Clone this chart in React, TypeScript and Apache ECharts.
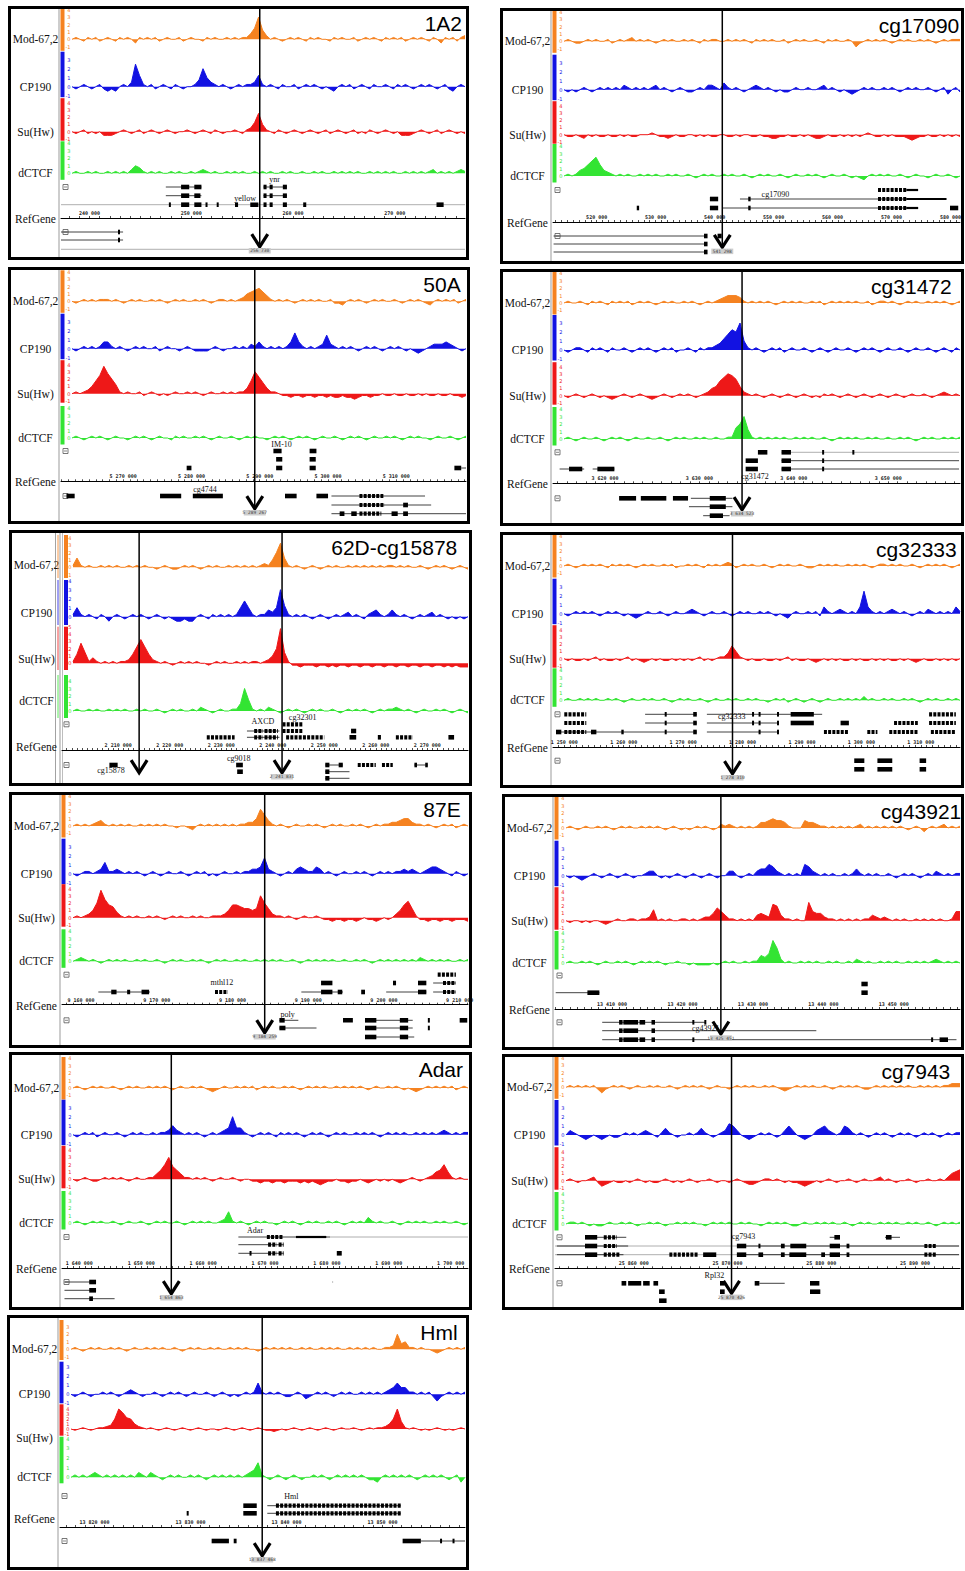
import React, { useEffect, useRef } from "react";
import * as echarts from "echarts";

const TRACKS = ["Mod-67,2", "CP190", "Su(Hw)", "dCTCF"];
const COLORS = ["#F58220", "#1212E2", "#EE1818", "#33E433"];
const ABOVE = [31, 35, 33.5, 32];
const BELOW = [11.5, 10.5, 9, 6.5];
const PPU = [7.4, 9, 7.3, 7.5];

// ---- signal values (quarter units of the track scale) ----
const s1_mod = [0,1,0,-1,1,0,1,-1,0,1, 0,-1,1,0,1,0,-2,1,0,1, 0,1,-1,0,1,0,0,1,-1,0, 1,0,0,-1,1,0,1,0,0,1, 0,1,0,1,1,3,6,12,5,2, 0,1,0,-1,0,1,0,1,0,-1, 1,0,1,0,0,-1,1,0,1,0, 0,1,-1,0,1,0,1,0,-1,1, 0,1,0,1,-1,0,1,0,1,0, -1,1,0,-2,1,0,1,-1,1,2];
const s1_cp = [0,-1,0,1,0,-1,0,1,-1,-2, -1,-2,0,1,0,2,10,5,1,0, 1,-1,0,1,0,-1,1,0,-1,0, 0,1,3,8,4,2,1,0,1,0, -1,0,1,0,1,1,2,5,1,0, 1,0,-1,1,0,0,1,-1,0,1, 0,1,0,-1,0,-1,-2,0,1,0, 1,-1,0,1,0,-1,1,0,0,1, 0,-1,1,0,1,0,-1,0,1,0, 1,0,-1,0,1,-1,-2,0,1,0];
const s1_su = [0,-1,0,1,-1,0,-1,0,-2,-2, -2,-1,0,1,0,-1,0,1,-1,0, 1,0,-1,0,1,0,-1,0,0,1, 0,-1,0,1,0,-1,1,0,-1,0, 0,1,0,-1,1,2,5,10,4,1, 0,-1,1,0,-1,0,1,0,-1,0, 1,0,-1,0,1,-1,0,1,0,-1, 0,1,-1,0,-1,1,0,-1,0,1, 0,-1,0,-2,-2,-2,-1,0,1,0, -1,0,1,-1,0,1,0,-1,0,-1];
const s1_ct = [0,1,0,0,1,0,1,0,0,1, 0,1,0,1,0,2,4,3,1,0, 1,0,1,0,0,1,0,1,0,0, 1,0,1,2,1,0,1,0,0,1, 0,1,0,1,0,0,1,0,1,0, 1,0,0,1,0,1,0,0,1,0, 0,1,0,1,0,0,1,0,1,0, 1,0,1,0,0,1,0,1,0,1, 0,1,0,0,1,0,1,0,1,0, 1,2,0,1,0,1,0,1,2,1];

const s2_mod = [0,1,0,-1,-1,0,1,0,1,0, 0,1,-1,0,1,0,1,2,0,1, 0,1,0,-1,0,1,0,1,0,0, 1,0,1,0,-1,1,0,1,1,0, 0,1,0,1,0,1,0,-1,1,0, 1,0,1,0,0,1,-1,0,1,0, 1,0,0,1,0,-1,1,0,1,0, 0,1,0,-3,-1,0,1,0,1,0, 1,0,-1,0,1,0,1,0,0,1, 0,1,0,-1,0,1,0,1,1,1];
const s2_cp = [0,-1,0,-1,0,1,0,-1,0,1, 0,1,0,1,0,2,1,0,1,0, 1,0,1,2,0,1,0,-1,0,1, 0,-1,-1,0,1,0,2,2,1,0, 3,1,0,1,0,-1,0,1,2,1, 0,1,0,-1,0,-1,-1,0,1,0, 0,1,0,0,1,2,0,1,0,-1, 0,-1,-2,-1,0,1,0,1,0,0, 1,0,1,0,-1,0,1,0,1,0, 0,1,0,-1,0,1,-2,0,1,-1];
const s2_su = [0,-1,-1,0,-1,-2,0,-1,0,-1, -1,0,-1,-1,0,-1,0,-1,-1,0, 0,0,1,0,-1,-1,-2,-1,0,-1, -1,0,0,-1,0,-1,0,-1,-1,0, 0,-1,-1,0,-1,0,0,-1,-1,0, -1,-1,-2,-2,-1,-1,0,-1,-1,0, -1,0,-1,-2,-2,-1,0,-1,-1,0, -1,0,-1,0,-1,0,1,0,-1,-1, 0,-1,0,-1,-1,-1,-2,-3,-2,-1, -1,0,-1,-1,0,-1,0,-1,0,-1];
const s2_ct = [0,1,0,1,3,4,6,8,10,6, 3,2,1,0,1,0,1,0,0,1, 0,1,0,1,0,0,1,0,1,0, 0,1,0,-1,0,1,0,1,0,0, 1,0,1,0,0,1,0,-1,0,1, 0,1,0,0,1,0,-1,0,1,0, 0,1,0,1,0,-1,0,1,0,0, 1,0,-1,0,-1,-2,0,1,0,1, 0,1,0,0,1,0,-1,0,1,0, 0,-1,0,1,0,0,1,0,-1,0];

const s3_mod = [0,-1,0,1,0,1,0,1,1,1, 0,1,0,-1,0,1,0,1,0,0, 1,0,1,0,-1,0,1,0,1,0, 0,1,0,1,0,-1,0,1,1,0, 1,0,1,2,4,5,6,7,5,3, 1,0,1,0,1,0,-1,0,1,0, 1,0,1,0,0,1,-1,-1,-2,0, 1,0,1,0,-1,0,1,0,1,0, 0,1,0,-1,0,1,0,1,0,-1, -2,0,1,0,1,0,1,-1,0,1];
const s3_cp = [0,-1,0,1,0,1,0,1,3,3, 1,0,1,0,-1,0,1,0,1,0, 0,1,-1,0,1,0,0,-1,0,1, 0,-1,-1,-1,-1,0,1,0,-1,0, 0,1,0,1,0,2,1,3,1,0, 1,0,1,0,1,3,7,3,1,0, 1,0,1,2,6,2,1,0,1,0, 1,0,-1,0,1,0,1,0,-1,0, 1,0,1,0,-1,0,-1,-2,-1,0, 1,2,2,2,3,2,1,0,-1,0];
const s3_su = [0,1,0,1,2,4,7,10,15,11, 8,5,1,0,1,0,0,1,-1,0, 1,0,-1,0,-1,0,1,0,0,1, 0,1,0,-1,0,1,0,0,1,0, 1,0,1,1,3,7,12,9,6,3, 1,1,0,-1,-1,-2,-1,-1,-2,-1, -1,-2,-1,-1,-2,-1,-2,-2,-1,-2, -2,-3,-2,-1,-1,-2,-1,-1,0,-1, -1,0,-1,-1,0,-1,-1,0,-1,0, -1,-1,0,-1,-1,0,-1,-1,-2,-1];
const s3_ct = [0,1,0,-1,0,1,0,1,0,-1, 0,1,0,0,-1,0,1,0,1,0, -1,0,1,0,0,-1,1,0,1,0, 0,1,0,1,0,-1,0,1,0,0, 1,0,-1,0,1,0,1,0,0,-1, 0,1,0,1,0,-1,0,1,0,1, 0,-1,0,1,0,0,1,0,-1,0, 1,0,1,0,-1,0,1,0,0,1, 0,1,0,-1,0,1,0,1,0,0, -1,0,1,0,0,1,0,-1,0,1];

const s4_mod = [0,1,0,0,1,0,-1,1,0,1, 0,-1,1,0,1,0,1,-1,0,1, 0,1,0,-1,0,1,0,1,0,0, 1,0,1,0,-1,0,1,0,1,2, 3,4,4,4,3,1,0,1,0,1, 0,1,0,-1,0,1,0,1,0,1, 0,0,1,0,1,-1,0,1,0,1, 0,1,0,1,0,0,1,-1,0,1, 1,0,1,0,-1,0,1,0,1,0, 0,1,0,1,0,1,0,-1,0,1];
const s4_cp = [0,-1,0,1,1,0,-1,1,0,1, 0,-1,1,0,0,1,0,-1,0,1, 0,1,0,-1,0,1,0,1,-1,0, 0,1,0,-1,1,0,1,1,2,3, 5,7,9,8,12,4,1,0,1,0, -1,0,1,0,1,-1,0,1,0,0, 1,0,-1,0,1,0,-1,0,1,0, 0,1,0,-1,0,1,0,1,0,-1, 0,1,0,0,1,0,-1,0,1,0, 0,1,0,-1,0,1,0,-1,1,0];
const s4_su = [0,-1,0,1,0,-1,0,1,0,-1, 0,-1,-2,-1,0,1,0,-1,0,1, 0,-1,-2,-1,0,1,0,-1,0,1, 0,1,0,-1,0,1,2,4,5,8, 10,12,11,9,5,2,1,0,1,0, -1,0,1,0,-1,0,1,0,-1,0, 1,0,-1,0,-1,1,0,1,0,-1, 0,1,0,-1,0,1,0,-1,0,1, 0,-1,0,1,0,-1,0,1,0,0, 1,0,-1,0,1,2,1,0,1,0];
const s4_ct = [0,1,0,-1,0,1,0,0,1,0, -1,0,1,0,1,0,-1,0,1,0, 0,1,0,0,1,0,-1,0,1,0, 1,0,0,1,0,1,0,0,1,0, 0,1,1,6,8,12,5,1,0,1, 0,1,0,1,0,1,0,0,1,0, 1,0,1,0,0,1,0,-1,0,1, 0,1,0,1,0,0,1,0,1,0, 0,1,0,0,1,0,1,0,-1,0, 1,0,1,0,0,1,0,1,0,1];

const s5_mod = [1,5,1,0,1,0,0,1,0,1, 0,1,0,0,1,0,1,0,1,0, 0,-1,0,1,0,-1,-1,0,1,0, 1,0,-1,0,1,0,1,0,0,1, 0,1,0,1,0,1,0,1,2,1, 4,8,13,5,1,0,1,0,-1,0, 1,0,-1,0,1,0,1,0,0,1, 0,1,0,1,0,1,0,1,0,1, 1,0,1,0,1,0,0,1,0,-1, 0,1,0,1,0,-1,0,1,0,-1];
const s5_cp = [1,4,1,0,1,0,-1,1,0,-2, 0,1,0,-1,0,1,0,1,0,-1, 0,1,0,-1,0,-1,-2,-2,-1,-2, -2,0,1,0,-1,1,0,1,0,1, 0,1,4,7,4,1,0,1,1,3, 2,4,12,5,1,0,1,0,1,0, -1,0,1,0,-1,0,1,0,1,2, 0,1,0,-1,1,2,3,1,0,1, 3,1,0,1,0,-1,0,1,0,1, 2,0,1,0,-1,0,-1,0,-1,0];
const s5_su = [1,5,11,6,1,3,1,0,1,0, 1,0,1,1,2,5,9,13,9,5, 2,1,0,1,0,-1,0,1,0,1, 0,1,0,0,-1,0,1,0,1,0, 0,1,0,1,0,1,1,0,1,2, 4,8,19,6,1,-1,-1,-2,-1,-1, -1,-2,-1,-1,-2,-1,-2,-1,-1,-2, -1,-1,-2,-1,-1,-2,-1,-1,-2,-1, -1,-2,-1,-1,-2,-1,-1,-2,-1,-1, -2,-1,-1,-2,-1,-2,-1,-2,-2,-2];
const s5_ct = [0,1,0,0,1,0,1,0,0,1, 0,1,0,1,0,0,1,0,1,0, 0,1,0,-1,0,1,0,1,0,0, 1,0,2,1,0,-1,0,1,0,0, 1,1,4,12,6,1,0,1,0,2, 1,0,-1,0,1,0,1,0,-1,0, 1,0,1,0,0,1,0,-1,0,1, 0,1,0,1,0,-1,0,1,0,1, 1,2,1,0,1,0,-1,0,1,0, 0,1,0,1,0,-1,0,1,0,-1];

const s6_mod = [0,1,0,-1,0,1,0,1,0,1, 0,-1,1,0,1,0,1,0,-1,0, 1,0,1,0,0,1,0,1,-1,0, 0,1,0,1,0,-1,1,0,1,0, 1,2,1,-1,0,1,0,1,0,0, 1,0,-1,0,1,0,1,0,0,1, 0,-1,-1,0,1,0,1,0,1,0, 0,1,0,1,0,1,0,-1,0,1, 1,0,1,0,1,0,0,1,0,-1, 0,1,0,1,0,1,0,-1,0,1];
const s6_cp = [0,-1,0,1,0,1,0,1,0,-1, 0,1,0,1,0,-1,0,-1,-2,-1, 0,1,0,0,1,0,-1,0,1,0, 0,1,2,1,0,-1,0,1,0,0, 1,0,-1,0,1,0,1,0,0,1, 0,1,0,-1,0,-1,-2,0,1,0, 0,1,0,1,-1,3,1,0,1,2, 1,0,1,0,3,10,3,1,0,1, 0,1,2,1,0,1,0,-1,0,1, 0,2,1,0,1,0,1,0,3,1];
const s6_su = [0,-1,0,-1,-1,0,-1,0,1,-1, 0,-1,-1,0,-1,0,1,-1,0,-1, -2,-1,0,-1,0,-1,-1,0,-1,0, -1,0,-1,0,1,-1,0,-1,0,1, 1,3,7,4,1,0,-1,0,-1,-1, 0,-1,-1,0,-1,0,1,-1,0,-1, -1,0,-1,-2,-1,0,-1,0,-1,0, -1,-1,0,-1,0,-1,-1,0,-1,0, -1,0,-1,-1,0,-1,0,-1,-2,-1, 0,-1,-1,0,-1,0,-1,0,-1,0];
const s6_ct = [0,1,0,0,1,0,1,0,1,0, 0,1,0,1,0,-1,0,1,0,0, 1,0,1,0,0,1,0,-1,0,1, 0,1,0,0,1,0,-1,0,1,0, 0,1,0,1,0,0,1,0,1,0, 0,-1,0,1,0,1,-1,0,1,0, -1,0,1,0,-1,0,1,0,0,1, 0,1,0,1,0,2,0,1,0,0, 1,0,1,0,0,1,0,1,0,-1, 0,1,0,1,0,0,1,0,1,0];

const s7_mod = [0,1,0,1,0,1,2,3,1,0, 1,0,1,0,1,0,0,1,0,1, 0,1,0,1,0,0,-1,0,0,-1, -2,0,1,0,1,0,1,0,1,0, 1,0,1,1,2,2,4,9,6,3, 1,0,1,0,-1,0,1,0,0,1, 0,1,0,-1,0,1,0,1,0,0, 1,0,1,0,-1,0,1,0,1,1, 2,2,3,4,4,2,1,1,0,1, 0,-1,0,1,0,1,-1,0,1,0];
const s7_cp = [0,-1,0,1,1,0,1,2,5,1, 1,2,1,0,1,0,1,0,-1,0, 1,0,-1,0,1,0,0,1,0,-1, 0,1,0,1,-1,0,-1,0,1,0, 0,1,0,1,1,2,2,3,7,2, 1,0,-1,0,1,0,2,3,2,1, 1,3,2,0,1,0,-1,0,1,0, 0,1,0,1,0,-1,0,1,0,1, 0,1,1,2,1,2,1,0,1,2, 3,3,2,1,0,-1,1,0,-1,0];
const s7_su = [0,1,0,1,2,4,8,15,10,7, 6,3,1,0,1,0,1,0,0,1, 0,1,0,-1,0,1,0,1,0,0, 1,0,1,0,0,1,1,1,2,4, 7,7,6,5,5,4,5,12,8,5, 2,1,1,0,1,0,-1,0,1,0, 0,1,0,-1,-1,-2,-1,-1,-2,-1, -1,-2,-1,0,-1,-1,-2,-1,0,-1, 0,2,4,7,9,5,1,-1,-1,-2, -1,-1,-2,-1,-1,-2,-1,-1,-1,-2];
const s7_ct = [0,1,2,1,0,1,0,-1,0,1, 0,1,0,1,0,0,1,0,1,0, 0,1,0,-1,0,1,0,1,0,0, 1,0,1,0,-1,0,1,0,1,0, 0,1,0,1,0,0,1,0,1,0, 1,0,1,0,0,1,0,-1,0,1, 0,1,0,1,0,1,0,0,1,0, 0,1,0,1,0,-1,0,1,0,1, 0,1,0,1,0,1,0,2,1,0, 1,0,1,0,1,0,0,1,0,1];

const s8_mod = [0,1,0,-1,0,1,0,0,1,0, 1,0,-1,0,1,0,1,0,0,1, 0,1,0,1,0,-1,0,1,0,-1, 0,-1,0,1,0,1,0,-1,0,2, 1,2,1,0,1,0,1,0,1,3, 3,4,5,4,4,3,1,0,0,0, 4,3,3,2,1,1,0,1,0,1, 0,1,0,1,2,0,1,0,1,0, 1,0,1,0,1,0,-1,0,1,0, -2,0,1,0,1,2,0,1,0,1];
const s8_cp = [0,-1,0,-1,-2,-1,0,1,0,-1, 0,1,0,-1,0,1,0,-1,0,0, 1,2,2,0,-1,0,-1,0,1,0, -1,0,1,0,-1,0,1,0,-1,0, 0,2,2,0,-1,0,1,0,2,3, 3,5,4,2,1,0,1,0,1,0, 5,4,2,1,0,1,0,1,0,0, 1,0,1,3,1,0,1,0,1,0, 0,1,0,-1,0,1,0,1,0,-1, 0,1,0,2,1,0,1,0,1,1];
const s8_su = [0,-1,0,0,-1,0,-1,0,0,-1, -2,-1,0,1,0,0,1,1,0,1, 1,2,6,0,1,0,1,0,0,1, 1,0,1,0,1,2,2,4,7,5, 3,1,1,0,1,0,1,0,3,4, 3,2,9,8,3,1,1,0,1,0, 0,10,5,4,4,2,1,1,0,1, 0,1,0,1,0,1,1,3,2,1, 2,1,0,1,0,1,0,0,1,0, 1,0,1,0,1,0,0,1,5,5];
const s8_ct = [0,1,0,0,1,0,1,0,-1,0, 1,0,0,1,0,1,0,-1,0,1, 0,1,0,1,0,-1,0,0,1,0, 0,-1,0,-1,-1,-1,-1,0,-1,0, 1,0,1,0,0,1,0,1,1,4, 3,5,12,8,2,0,1,0,0,1, 0,1,0,1,0,0,1,0,1,0, 0,1,0,2,1,0,1,0,0,1, 0,1,0,1,0,0,1,0,1,0, 1,0,1,2,1,0,1,0,1,0];

const s9_mod = [0,1,0,-1,0,1,0,1,0,0, 1,0,-1,0,1,0,1,0,0,1, 0,1,0,1,0,-1,0,1,0,0, 1,0,1,0,-1,-2,-1,0,1,0, 0,1,0,1,0,1,-1,0,1,0, 1,0,0,1,0,1,0,-1,0,1, 0,1,0,1,0,0,1,0,1,0, 1,0,1,0,-1,0,1,0,0,1, 0,1,0,-1,0,-1,-2,-1,0,1, 0,1,0,1,0,1,-1,0,1,0];
const s9_cp = [0,-1,0,1,0,1,-1,0,1,0, 0,1,0,-1,0,1,0,1,0,0, 1,0,1,1,2,4,2,1,0,1, 0,1,0,-1,0,1,0,1,2,3, 8,3,3,1,0,-1,0,1,0,1, 0,-1,1,0,1,0,1,0,-1,0, 1,0,1,0,-1,0,1,0,1,0, 0,1,0,1,0,1,0,-1,0,1, 0,1,0,1,0,0,1,0,1,0, 1,0,1,2,1,0,1,0,1,1];
const s9_su = [0,-1,0,1,0,-1,-1,0,1,0, 1,0,1,0,-1,0,1,0,0,1, 1,3,5,8,12,7,5,3,1,1, 0,1,0,1,0,-1,0,1,0,0, 1,0,-1,0,0,-1,-1,-2,-1,-1, -2,-1,-1,-2,-1,-1,-1,-2,-1,-2, -1,-2,-3,-2,-1,-1,0,-1,-1,-2, -1,-1,0,-1,-2,-1,0,-1,0,-1, 0,-1,-2,-1,0,1,0,-1,0,1, 2,4,5,8,4,1,0,1,0,0];
const s9_ct = [0,1,0,-1,0,1,0,1,0,0, 1,0,-1,0,1,0,0,1,0,-1, 0,1,0,1,0,0,1,0,-1,0, 1,0,1,0,1,0,0,1,2,6, 1,0,1,0,-1,0,1,0,1,0, 0,-1,0,1,0,1,0,-1,0,1, 0,1,0,0,1,0,1,0,-1,0, 1,0,1,0,3,1,0,1,0,0, 1,0,-1,0,1,0,1,0,1,0, 0,1,0,1,0,0,1,0,-1,0];

const s10_mod = [0,1,0,1,0,1,0,1,-1,-3, -1,0,1,0,1,0,-1,0,1,0, 0,1,0,1,0,0,1,0,-1,0, 1,0,1,0,1,0,-1,0,1,0, 0,-1,0,1,0,1,0,1,0,0, 1,0,1,0,-1,-2,-1,0,1,0, 1,0,1,0,0,1,0,-1,0,1, 0,1,0,1,0,-1,-1,0,1,0, 1,0,1,0,1,0,1,0,0,1, 0,1,0,1,0,1,1,2,2,2];
const s10_cp = [0,2,1,0,-1,-2,-1,0,-1,-2, -1,0,-1,-1,0,1,0,1,0,1, 2,1,0,-1,1,3,1,0,-1,0, 0,1,0,1,3,1,0,-1,0,1, 2,5,4,2,0,-1,-2,-1,0,1, 0,1,0,-1,0,2,4,2,0,-1, -2,-1,0,2,3,4,2,1,0,1, 4,3,1,0,1,0,-1,0,1,0, 1,0,-1,0,1,0,1,0,-1,0, 1,0,1,0,-1,0,1,0,1,1];
const s10_su = [0,1,0,-1,0,0,1,2,-1,-3, -2,-1,0,-1,-1,0,-1,0,1,0, -1,0,-1,-1,0,1,0,-1,0,-1, 0,1,0,-1,0,0,1,0,-1,0, 0,-1,0,1,0,-1,-2,-2,-1,0, 1,1,0,1,0,-1,0,-1,-1,-2, -3,-2,-1,0,-1,0,1,0,-1,0, 0,1,0,-1,0,1,0,0,1,2, 0,1,0,-1,0,0,1,0,-1,0, 0,1,0,0,1,0,2,4,5,6];
const s10_ct = [0,1,1,0,1,0,-1,0,-1,-1, 0,1,0,0,1,0,1,0,-1,0, 0,1,0,1,0,-1,0,0,1,0, 1,0,1,0,0,-1,0,1,0,1, 0,1,0,0,1,0,1,0,0,-1, 0,1,0,1,0,1,0,-1,-1,0, 1,0,0,1,0,1,0,1,0,0, 1,0,-1,0,1,0,1,0,0,1, 0,1,0,1,0,0,1,0,1,0, 0,1,0,-1,0,1,0,1,0,1];

const s11_mod = [0,1,0,-1,0,1,0,1,0,0, 1,0,1,0,-1,0,1,0,0,1, 0,1,0,1,0,0,1,0,-1,0, 1,0,1,0,0,1,0,1,0,0, 1,0,1,0,1,0,0,-1,0,1, 0,1,0,1,0,1,0,0,1,0, 1,0,0,1,0,1,0,1,0,0, 1,0,1,0,1,0,1,0,0,1, 1,2,8,3,4,1,1,0,1,0, 0,-1,-2,-1,0,1,0,1,0,1];
const s11_cp = [0,-1,0,1,0,-1,0,0,1,0, 1,0,-1,0,1,2,1,0,-1,0, 0,1,0,-1,0,1,0,1,0,-1, 0,1,0,0,1,0,-1,0,1,0, -1,0,-1,0,1,0,1,5,1,0, 1,0,1,0,-1,-1,0,1,0,-2, -1,0,1,0,1,0,-1,0,1,0, 1,0,0,1,0,1,0,1,0,1, 2,3,5,3,3,1,1,0,1,0, 1,-1,-3,-1,0,1,0,1,0,1];
const s11_su = [0,-1,0,1,0,-1,0,1,1,2, 3,8,16,13,9,8,4,2,1,0, 1,0,-1,0,1,0,-1,0,1,0, -1,0,1,0,-1,0,0,-1,0,1, 0,-1,0,1,0,-1,0,1,0,-1, -1,-2,-1,0,-1,0,1,0,-1,0, 1,0,-1,0,1,0,-1,0,1,0, 0,1,0,-1,0,1,0,1,1,2, 4,8,16,6,1,0,1,0,-1,0, -1,0,1,0,-1,0,-1,0,1,0];
const s11_ct = [0,1,0,1,0,1,2,1,0,1, 0,1,0,1,0,1,0,2,1,0, 2,1,0,-1,0,1,0,1,0,0, 1,0,1,0,-1,0,1,0,1,0, 1,0,1,0,1,2,3,6,1,0, -1,0,1,0,-1,0,1,0,-1,0, 0,1,0,1,0,-1,0,1,0,1, 0,1,0,1,0,-1,-1,-2,0,1, 0,1,0,1,0,1,0,-1,0,1, 0,1,0,1,0,-1,0,1,-2,0];

// ---- gene models: [start kb, end kb, row, type(0 line,1 exon,2 grey line,3 exon chain,4 thick line)] ----
const g1 = [[247.5,251.0,0,0],[249.0,249.8,0,1],[250.3,251.0,0,1],[257.1,259.4,0,0],[257.1,257.4,0,1],[257.7,258.0,0,1],[259.0,259.4,0,1],
[247.5,251.0,1,0],[249.0,249.8,1,1],[250.3,250.9,1,1],[257.1,259.4,1,0],[257.1,257.4,1,1],[257.7,258.0,1,1],[259.0,259.4,1,1],
[237.2,276.9,2,2],[247.8,247.9,2,1],[249.0,249.8,2,1],[250.3,251.0,2,1],[251.4,251.6,2,1],[252.5,252.6,2,1],[254.3,254.6,2,1],[255.8,256.6,2,1],[257.1,257.4,2,1],[257.7,258.0,2,1],[259.0,259.4,2,1],[261.0,261.3,2,1],[274.1,274.8,2,1],
[237.2,243.3,3,0],[242.8,242.9,3,1],[237.2,243.3,4,0],[242.8,242.9,4,1],[237.2,276.9,5,2]];
const g2 = [[567.7,572.5,0,3],[572.5,574.5,0,4],
[539.2,540.6,1,1],[544.3,579.3,1,0],[545.7,546.1,1,1],[567.7,572.5,1,3],[572.5,579.3,1,4],
[526.8,527.2,2,1],[539.2,540.6,2,1],[541.4,574.5,2,0],[545.7,546.1,2,1],[567.7,572.5,2,3],[572.5,574.5,2,4],[579.9,581.3,2,1],
[512.7,538.6,3,0],[538.2,538.8,3,1],[540.5,541.2,3,1],
[512.7,538.6,4,0],[538.2,538.8,4,1],
[512.7,538.6,5,0],[538.2,538.8,5,1]];
const g3 = [[5292.0,5293.2,0,1],[5297.3,5298.3,0,1],
[5292.4,5293.3,1,1],[5297.3,5298.2,1,1],
[5279.3,5280.0,2,1],[5292.4,5293.3,2,1],[5297.3,5298.2,2,1],[5318.5,5319.5,2,1],[5319.5,5320.2,2,0],
[5261.7,5262.9,3,1],[5275.4,5278.5,3,1],[5280.2,5284.6,3,1],[5293.7,5295.4,3,1],[5298.3,5300.0,3,1],[5300.5,5314.2,3,0],[5304.6,5308.1,3,3],
[5300.5,5315.1,4,0],[5304.6,5308.3,4,3],[5311.0,5311.7,4,1],
[5300.5,5320.2,5,0],[5301.7,5302.4,5,1],[5303.4,5304.2,5,1],[5304.6,5307.8,5,3],[5309.3,5310.2,5,1],[5311.0,5311.7,5,1]];
const g4 = [[3636.2,3637.2,0,1],[3638.7,3657.5,0,2],[3638.7,3639.7,0,1],[3643.0,3643.1,0,1],[3646.2,3646.3,0,1],
[3634.9,3636.2,1,1],[3638.7,3657.5,1,0],[3638.7,3639.7,1,1],[3643.0,3643.1,1,1],
[3615.2,3617.8,2,0],[3616.2,3617.6,2,1],[3618.7,3621.0,2,0],[3619.2,3621.0,2,1],[3634.9,3636.2,2,1],[3638.7,3657.5,2,0],[3638.7,3639.7,2,1],[3643.0,3643.1,2,1],
[3621.5,3623.3,3,1],[3623.8,3626.5,3,1],[3627.2,3628.8,3,1],[3629.1,3633.5,3,0],[3631.1,3632.8,3,1],
[3628.9,3633.5,4,0],[3631.1,3632.8,4,1],
[3630.4,3633.2,5,0],[3631.1,3632.5,5,1]];
const g5 = [[2241.9,2245.8,0,3],
[2235.0,2241.3,1,0],[2236.4,2238.1,1,3],[2238.4,2241.0,1,3],[2241.9,2245.8,1,3],[2255.2,2256.2,1,1],
[2227.2,2232.6,2,3],[2235.0,2241.3,2,0],[2236.4,2238.1,2,3],[2238.4,2241.0,2,3],[2242.6,2250.0,2,3],[2254.9,2256.2,2,1],[2260.4,2261.0,2,1],[2263.9,2267.2,2,3],[2274.1,2275.2,2,1],
[2208.3,2209.9,3,1],[2232.9,2234.2,3,1],[2250.2,2253.6,3,0],[2250.2,2251.0,3,1],[2252.8,2253.6,3,1],[2256.5,2260.0,3,3],[2261.2,2263.3,3,3],[2267.5,2270.1,3,0],[2267.5,2268.0,3,1],[2269.6,2270.1,3,1],
[2233.1,2234.2,4,1],[2250.2,2254.9,4,0],[2250.2,2251.0,4,1],
[2250.2,2254.9,5,0],[2250.2,2251.0,5,1]];
const g6 = [[1250.0,1253.7,0,3],[1263.6,1272.3,0,0],[1266.9,1267.0,0,1],[1271.7,1272.3,0,1],[1274.0,1293.4,0,0],[1281.6,1281.7,0,1],[1282.7,1282.8,0,1],[1285.8,1285.9,0,1],[1288.1,1292.0,0,1],[1311.4,1315.9,0,3],
[1250.0,1253.7,1,3],[1263.6,1272.3,1,0],[1266.9,1267.0,1,1],[1271.7,1272.3,1,1],[1274.0,1285.8,1,0],[1281.6,1281.7,1,1],[1282.7,1282.8,1,1],[1285.8,1285.9,1,1],[1288.1,1292.0,1,1],[1296.5,1297.9,1,1],[1305.5,1309.5,1,3],[1311.4,1315.9,1,3],
[1248.6,1272.3,2,0],[1248.6,1249.5,2,1],[1250.0,1253.7,2,3],[1254.5,1255.4,2,1],[1259.6,1260.0,2,1],[1266.9,1267.0,2,1],[1271.7,1272.3,2,1],[1274.0,1285.8,2,0],[1282.7,1282.9,2,1],[1285.8,1285.9,2,1],[1293.7,1297.9,2,3],[1301.0,1302.7,2,3],[1304.7,1309.5,2,3],[1311.7,1315.9,2,3],
[1298.8,1300.5,3,1],[1302.7,1305.2,3,1],[1309.8,1310.9,3,1],
[1298.8,1300.5,4,1],[1302.7,1305.2,4,1],[1309.8,1310.9,4,1]];
const g7 = [[9207.1,9209.5,0,3],
[9191.7,9193.2,1,1],[9201.2,9201.6,1,1],[9204.5,9205.6,1,1],[9206.5,9209.5,1,0],[9207.8,9209.5,1,3],
[9162.3,9169.1,2,0],[9164.0,9164.7,2,1],[9166.1,9166.5,2,1],[9168.0,9169.0,2,1],[9177.7,9179.4,2,3],[9189.1,9194.6,2,0],[9191.7,9193.2,2,1],[9193.9,9194.5,2,1],[9197.0,9197.5,2,1],[9200.3,9205.6,2,0],[9204.5,9205.6,2,1],[9206.5,9209.5,2,0],[9207.8,9209.5,2,3],
[9186.2,9188.7,3,0],[9186.2,9186.9,3,1],[9194.6,9195.9,3,1],[9197.5,9203.8,3,0],[9197.5,9199.0,3,1],[9202.1,9203.2,3,1],[9205.8,9206.0,3,1],[9210.0,9211.0,3,1],
[9186.2,9191.1,4,0],[9186.2,9187.0,4,1],[9197.5,9203.8,4,0],[9197.5,9199.0,4,1],[9202.1,9203.2,4,1],[9205.8,9206.0,4,1],
[9197.5,9204.0,5,0],[9197.5,9199.0,5,1],[9202.1,9203.2,5,1]];
const g8 = [[13445.4,13446.3,1,1],
[13402.0,13408.2,2,0],[13406.5,13408.2,2,1],[13445.4,13446.3,2,1],
[13408.6,13423.3,3,0],[13411.0,13411.5,3,1],[13411.6,13413.7,3,1],[13413.9,13414.7,3,1],[13415.6,13416.1,3,1],[13421.4,13421.5,3,1],[13423.1,13423.3,3,1],
[13408.6,13439.0,4,0],[13411.0,13411.5,4,1],[13411.6,13413.7,4,1],[13415.6,13416.1,4,1],
[13408.6,13458.9,5,0],[13411.0,13411.5,5,1],[13411.6,13413.7,5,1],[13413.9,13414.7,5,1],[13415.6,13416.1,5,1],[13421.4,13421.5,5,1],[13455.3,13455.4,5,1],[13456.5,13457.7,5,1]];
const g9 = [[1665.7,1680.5,0,0],[1670.3,1673.0,0,3],[1675.0,1679.9,0,4],[1680.5,1702.8,0,2],
[1665.7,1673.0,1,0],[1670.5,1671.9,1,3],[1672.2,1673.0,1,3],
[1665.7,1673.0,2,0],[1667.5,1667.6,2,1],[1670.5,1671.9,2,3],[1672.2,1673.0,2,3],[1681.6,1682.4,2,1],
[1637.6,1642.7,3,0],[1641.6,1642.7,3,1],[1680.9,1681.0,3,0],
[1637.6,1642.7,4,0],[1641.6,1642.7,4,1],
[1637.6,1645.7,5,0],[1641.6,1642.2,5,1]];
const g10 = [[25854.8,25859.2,0,0],[25854.8,25856.1,0,1],[25856.8,25858.2,0,3],[25880.9,25882.0,0,0],[25881.4,25882.0,0,1],[25886.8,25888.4,0,0],[25886.9,25887.5,0,1],
[25851.6,25894.7,1,2],[25851.8,25859.4,1,0],[25854.8,25856.1,1,1],[25856.8,25858.2,1,3],[25871.0,25894.7,1,0],[25871.0,25872.0,1,1],[25873.3,25873.4,1,1],[25875.7,25876.1,1,1],[25876.7,25878.4,1,1],[25880.9,25882.0,1,1],[25882.7,25883.0,1,1],[25891.0,25892.3,1,3],
[25851.6,25894.7,2,2],[25851.8,25858.9,2,0],[25854.8,25856.1,2,1],[25856.8,25858.5,2,3],[25863.8,25866.9,2,3],[25867.4,25868.8,2,1],[25871.0,25894.7,2,0],[25871.0,25872.0,2,1],[25873.3,25873.8,2,1],[25875.7,25876.1,2,1],[25876.6,25878.4,2,1],[25880.0,25880.4,2,1],[25880.9,25882.0,2,1],[25882.7,25883.0,2,1],[25891.0,25892.3,2,3],
[25858.7,25859.2,3,1],[25859.4,25860.8,3,1],[25861.0,25861.7,3,1],[25862.1,25862.6,3,1],[25869.2,25869.7,3,1],[25872.9,25873.4,3,1],[25873.4,25876.1,3,0],[25878.8,25879.8,3,1],
[25862.7,25863.3,4,1],[25869.2,25869.7,4,1],[25878.8,25879.9,4,1],
[25862.7,25863.5,5,1]];
const g11 = [[13835.5,13836.9,1,1],[13838.0,13851.9,1,0],[13838.9,13851.9,1,3],
[13829.6,13829.7,2,1],[13835.5,13836.9,2,1],[13838.0,13851.9,2,0],[13838.9,13851.9,2,3],
[13832.2,13834.0,3,1],[13834.5,13834.8,3,1],[13852.1,13854.0,3,1],[13854.0,13858.6,3,0],[13856.0,13856.1,3,1],[13857.3,13857.4,3,1]];

// ---- gene names: [kb, row, text] ----
const l1: any[] = [[258.2,-0.9,"ynr"],[255.3,1.3,"yellow"]];
const l2: any[] = [[550.3,0.45,"cg17090"]];
const l3: any[] = [[5293.2,-0.75,"IM-10"],[5282.0,2.75,"cg4744"]];
const l4: any[] = [[3635.9,2.25,"cg31472"]];
const l5: any[] = [[2238.1,-0.35,"AXCD"],[2245.8,-1.05,"cg32301"],[2233.4,2.75,"cg9018"],[2208.6,3.85,"cg15878"]];
const l6: any[] = [[1278.2,0.3,"cg32333"]];
const l7: any[] = [[9178.6,0.9,"mthl12"],[9187.3,2.8,"poly"]];
const l8: any[] = [[13423.3,3.75,"cg43921"]];
const l9: any[] = [[1668.4,-0.87,"Adar"]];
const l10: any[] = [[25871.7,-0.05,"cg7943"],[25868.6,2.73,"Rpl32"]];
const l11: any[] = [[13840.5,0,"Hml"]];

// ---- ruler ticks (kb) ----
const t1 = [240,250,260,270];
const t2 = [520,530,540,550,560,570,580];
const t3 = [5270,5280,5290,5300,5310];
const t4 = [3620,3630,3640,3650];
const t5 = [2210,2220,2230,2240,2250,2260,2270];
const t6 = [1250,1260,1270,1280,1290,1300,1310];
const t7 = [9160,9170,9180,9190,9200,9210];
const t8 = [13410,13420,13430,13440,13450];
const t9 = [1640,1650,1660,1670,1680,1690,1700];
const t10 = [25860,25870,25880,25890];
const t11 = [13820,13830,13840,13850];

const PANELS: any[] = [
  { title: "1A2", rect: [8, 6, 461, 254], tr: 7, sig: [s1_mod, s1_cp, s1_su, s1_ct], kb: [237.2, 276.9], ticks: t1, arrows: [256.73], alabel: "256 730", genes: g1, gl: l1,
    base: [33.3, 80.7, 125.7, 167.3], axisY: 212, rows: [181, 189.7, 198.7, 226, 234, 243.3], tip: 240.7 },
  { title: "cg17090", rect: [500, 8, 464, 256], tr: 4.7, sig: [s2_mod, s2_cp, s2_su, s2_ct], kb: [512.6, 581.6], ticks: t2, arrows: [541.3], alabel: "541 298", genes: g2, gl: l2,
    base: [33.3, 81.7, 126.7, 168], axisY: 214, rows: [182, 191, 200, 228, 236, 244], tip: 239.3 },
  { title: "50A", rect: [8, 267, 462, 257], tr: 9.3, sig: [s3_mod, s3_cp, s3_su, s3_ct], kb: [5260.9, 5320.2], ticks: t3, arrows: [5289.27], alabel: "5 289 267", genes: g3, gl: l3,
    base: [34.3, 81.7, 126.7, 171], axisY: 214.3, rows: [184, 192.3, 201, 229, 238, 246.7], tip: 241.7 },
  { title: "cg31472", rect: [500, 269, 464, 257], tr: 12.3, sig: [s4_mod, s4_cp, s4_su, s4_ct], kb: [3614.5, 3657.6], ticks: t4, arrows: [3634.52], alabel: "3 634 523", genes: g4, gl: l4,
    base: [34, 81, 126.7, 170], axisY: 214.3, rows: [183.3, 191.7, 200, 229.3, 237.7, 246.7], tip: 240.7 },
  { title: "62D-cg15878", rect: [9, 530, 463, 256], tr: 14.7, sig: [s5_mod, s5_cp, s5_su, s5_ct], kb: [2199.1, 2277.9], ticks: t5, arrows: [2214.07, 2241.81], alabel: "2 241 831", genes: g5, gl: l5,
    base: [37.3, 86.7, 133.3, 181], axisY: 220, rows: [194.3, 201, 207.3, 235, 241.7, 248.3], tip: 242.7,
    above: [32.3, 36.7, 36.6, 36], below: [10.7, 8.3, 6.7, 7], labelY: [35, 83.3, 129, 170.7, 216.7], extra: true },
  { title: "cg32333", rect: [500, 532, 464, 256], tr: 7.3, sig: [s6_mod, s6_cp, s6_su, s6_ct], kb: [1248.1, 1316.6], ticks: t6, arrows: [1278.31], alabel: "1 278 310", genes: g6, gl: l6,
    base: [34, 81.7, 126.7, 168.3], axisY: 215, rows: [182.3, 191, 200, 228.7, 237.3, 246], tip: 241.7 },
  { title: "87E", rect: [9, 792, 463, 256], tr: 11.3, sig: [s7_mod, s7_cp, s7_su, s7_ct], kb: [9157.5, 9211.1], ticks: t7, arrows: [9184.26], alabel: "9 184 259", genes: g7, gl: l7,
    base: [34, 81.7, 125.7, 169.3], axisY: 212.7, rows: [182.7, 191, 200, 228.3, 236, 245], tip: 240.7 },
  { title: "cg43921", rect: [502, 794, 462, 256], tr: 2.7, sig: [s8_mod, s8_cp, s8_su, s8_ct], kb: [13401.9, 13459.4], ticks: t8, arrows: [13425.45], alabel: "13 425 451", genes: g8, gl: l8,
    base: [34, 81.7, 126.7, 169], axisY: 215, rows: [181.5, 190, 198.7, 228.3, 236.7, 245.7], tip: 240 },
  { title: "Adar", rect: [9, 1052, 463, 258], tr: 9, sig: [s9_mod, s9_cp, s9_su, s9_ct], kb: [1637.2, 1702.8], ticks: t9, arrows: [1654.86], alabel: "1 654 863", genes: g9, gl: l9,
    base: [36, 82.7, 127.3, 171], axisY: 216, rows: [185, 192.7, 201.3, 230, 238.3, 246.7], tip: 241.7 },
  { title: "cg7943", rect: [502, 1054, 462, 256], tr: 13.7, sig: [s10_mod, s10_cp, s10_su, s10_ct], kb: [25851.6, 25894.8], ticks: t10, arrows: [25870.43], alabel: "25 870 426", genes: g10, gl: l10,
    base: [33.3, 81, 126.7, 170], axisY: 214.3, rows: [183.3, 192, 200.7, 229.3, 237.7, 246.7], tip: 239.3 },
  { title: "Hml", rect: [7, 1315, 462, 255], tr: 11.3, sig: [s11_mod, s11_cp, s11_su, s11_ct], kb: [13816.4, 13858.6], ticks: t11, arrows: [13837.47], alabel: "13 837 468", genes: g11, gl: l11,
    base: [34.3, 79.3, 114, 162.3], axisY: 212, rows: [181, 190.7, 198.3, 226, 234, 242], tip: 240.7,
    above: [29.3, 32.6, 24.7, 40.6], below: [10.7, 9, 6.7, 6], ppu: [7.5, 9, 5, 9.7], labelY: [34, 79, 123, 162, 204] },
];

function fmtKb(v: number) {
  return String(Math.round(v * 1000)).replace(/\B(?=(\d{3})+(?!\d))/g, " ");
}

function rowY(rows: number[], r: number) {
  if (r <= 0) return rows[0] + r * (rows[1] - rows[0]);
  if (r >= 5) return rows[5] + (r - 5) * (rows[5] - rows[4]);
  const i = Math.floor(r);
  const f = r - i;
  return rows[i] + f * (rows[i + 1] - rows[i]);
}

function buildOption() {
  const grid: any[] = [];
  const xAxis: any[] = [];
  const yAxis: any[] = [];
  const series: any[] = [];
  const elements: any[] = [];

  PANELS.forEach((p) => {
    const [x0, y0, W, H] = p.rect;
    const above = p.above || ABOVE;
    const below = p.below || BELOW;
    const ppu = p.ppu || PPU;
    const labelY = p.labelY || [...p.base, p.axisY + 1];

    // separator and label column
    elements.push({ type: "line", shape: { x1: x0 + 51, y1: y0 + 3, x2: x0 + 51, y2: y0 + H - 3 }, style: { stroke: "#bdbdbd", lineWidth: 1.5 }, silent: true });
    if (p.extra) {
      elements.push({ type: "line", shape: { x1: x0 + 46.5, y1: y0 + 3, x2: x0 + 46.5, y2: y0 + H - 3 }, style: { stroke: "#8a8a8a", lineWidth: 0.8 }, silent: true });
      elements.push({ type: "line", shape: { x1: x0 + 53.5, y1: y0 + 3, x2: x0 + 53.5, y2: y0 + H - 3 }, style: { stroke: "#bdbdbd", lineWidth: 1 }, silent: true });
    }
    const names = [...TRACKS, "RefGene"];
    names.forEach((n, i) => {
      elements.push({ type: "text", x: x0 + 27.5, y: y0 + labelY[i], style: { text: n, font: '11.5px "Liberation Serif"', fill: "#111", textAlign: "center", textVerticalAlign: "middle", align: "center", verticalAlign: "middle" }, silent: true });
    });
    elements.push({ type: "text", x: x0 + W - p.tr, y: y0 + 17.8, style: { text: p.title, font: '21px "Liberation Sans"', fill: "#000", textAlign: "right", textVerticalAlign: "middle", align: "right", verticalAlign: "middle" }, silent: true });
    [p.rows[0], p.rows[3]].forEach((ry: number) => {
      elements.push({ type: "rect", shape: { x: x0 + 55, y: y0 + ry - 2.5, width: 5, height: 5 }, style: { fill: "#fff", stroke: "#555", lineWidth: 0.8 }, silent: true });
      elements.push({ type: "line", shape: { x1: x0 + 56, y1: y0 + ry, x2: x0 + 59, y2: y0 + ry }, style: { stroke: "#555", lineWidth: 0.7 }, silent: true });
    });

    // signal tracks
    for (let t = 0; t < 4; t++) {
      const top = y0 + p.base[t] - above[t];
      const h = above[t] + below[t];
      const barX = p.extra ? x0 + 55 : x0 + 52.5;
      elements.push({ type: "rect", shape: { x: barX, y: top, width: 4, height: h }, style: { fill: COLORS[t] }, silent: true });
      if (p.extra) {
        elements.push({ type: "line", shape: { x1: x0 + 49, y1: top, x2: x0 + 49, y2: top + h }, style: { stroke: COLORS[t], lineWidth: 0.8 }, silent: true });
      }
      const ymin = -below[t] / ppu[t];
      const ymax = above[t] / ppu[t];
      const labs: number[] = [];
      for (let k = Math.ceil(ymin); k <= Math.floor(ymax); k++) labs.push(k);
      const gi = grid.length;
      grid.push({ left: x0 + 64, top, width: W - 68, height: h, outerBoundsMode: "none" });
      const sig = p.sig[t];
      xAxis.push({ gridIndex: gi, type: "value", min: 0, max: sig.length - 1, show: false });
      yAxis.push({
        gridIndex: gi, type: "value", min: ymin, max: ymax,
        axisLine: { show: false }, axisTick: { show: false }, splitLine: { show: false },
        axisLabel: { show: true, customValues: labs, fontSize: 5, color: COLORS[t], margin: 1.5, fontFamily: "DejaVu Sans" },
      });
      series.push({
        type: "line", xAxisIndex: gi, yAxisIndex: gi, silent: true, z: 2,
        data: sig.map((v: number, i: number) => [i, v / 4]),
        showSymbol: false, symbol: "none",
        lineStyle: { color: COLORS[t], width: 1 },
        areaStyle: { color: COLORS[t], opacity: 1 },
      });
    }

    // gene / ruler grid
    const gi = grid.length;
    grid.push({ left: x0 + 53, top: y0 + p.axisY - 12, width: W - 57, height: 12, outerBoundsMode: "none" });
    const minor: number[] = [];
    for (let k = Math.ceil(p.kb[0]); k <= p.kb[1]; k++) minor.push(k);
    xAxis.push({
      gridIndex: gi, type: "value", min: p.kb[0], max: p.kb[1], position: "bottom",
      axisLine: { show: true, onZero: false, lineStyle: { color: "#000", width: 1 } },
      axisTick: { show: true, inside: true, length: 2, customValues: minor, lineStyle: { color: "#000", width: 0.7 } },
      axisLabel: { show: true, inside: true, customValues: p.ticks, formatter: (v: number) => fmtKb(v), fontSize: 5, margin: 2.5, color: "#222", fontFamily: "DejaVu Sans Mono", fontWeight: "bold" },
      splitLine: { show: false },
    });
    yAxis.push({ gridIndex: gi, type: "value", min: 0, max: 1, show: false });

    series.push({
      type: "custom", xAxisIndex: gi, yAxisIndex: gi, clip: false, silent: true, z: 3,
      data: p.genes,
      renderItem: (params: any, api: any) => {
        const s = api.coord([api.value(0), 0])[0];
        const e = api.coord([api.value(1), 0])[0];
        const row = api.value(2);
        const tp = api.value(3);
        const y = y0 + p.rows[row];
        if (tp === 1) return { type: "rect", shape: { x: s, y: y - 2.3, width: Math.max(e - s, 2), height: 4.6 }, style: { fill: "#000" } };
        if (tp === 3) return { type: "line", shape: { x1: s, y1: y, x2: e, y2: y }, style: { stroke: "#000", lineWidth: 4.2, lineDash: [3, 1.2] } };
        if (tp === 4) return { type: "line", shape: { x1: s, y1: y, x2: e, y2: y }, style: { stroke: "#000", lineWidth: 2.2 } };
        return { type: "line", shape: { x1: s, y1: y, x2: e, y2: y }, style: { stroke: tp === 2 ? "#9a9a9a" : "#111", lineWidth: 0.8 } };
      },
    });

    series.push({
      type: "custom", xAxisIndex: gi, yAxisIndex: gi, clip: false, silent: true, z: 4,
      data: p.gl.map((g: any[]) => [g[0], g[1]]),
      renderItem: (params: any, api: any) => {
        const x = api.coord([api.value(0), 0])[0];
        const y = y0 + rowY(p.rows, api.value(1));
        const txt = p.gl[params.dataIndex][2];
        return { type: "text", style: { text: txt, x, y, font: '8px "Liberation Serif"', fill: "#111", textAlign: "center", textVerticalAlign: "middle", align: "center", verticalAlign: "middle" } };
      },
    });

    series.push({
      type: "custom", xAxisIndex: gi, yAxisIndex: gi, clip: false, silent: true, z: 6,
      data: p.arrows.map((a: number, i: number) => [a, i]),
      renderItem: (params: any, api: any) => {
        const x = api.coord([api.value(0), 0])[0];
        const tip = y0 + p.tip;
        const children: any[] = [
          { type: "line", shape: { x1: x, y1: y0 + 2, x2: x, y2: tip - 1 }, style: { stroke: "#000", lineWidth: 1.5 } },
          { type: "polyline", shape: { points: [[x - 8, tip - 12.5], [x, tip], [x + 8, tip - 12.5]] }, style: { stroke: "#000", lineWidth: 3.2, fill: null, lineJoin: "miter" } },
        ];
        if (api.value(1) === p.arrows.length - 1) {
          children.push({ type: "rect", shape: { x: x - 11, y: tip + 1.3, width: 22, height: 5.5 }, style: { fill: "#cdcdcd" } });
          children.push({ type: "text", style: { text: p.alabel, x, y: tip + 4.1, font: '4.5px "DejaVu Sans Mono"', fill: "#444", textAlign: "center", textVerticalAlign: "middle", align: "center", verticalAlign: "middle" } });
        }
        return { type: "group", children };
      },
    });

    // frame on top
    elements.push({ type: "rect", z: 100, shape: { x: x0 + 1.5, y: y0 + 1.5, width: W - 3, height: H - 3 }, style: { fill: "transparent", stroke: "#000", lineWidth: 3 }, silent: true });
  });

  return {
    animation: false,
    backgroundColor: "#ffffff",
    grid,
    xAxis,
    yAxis,
    series,
    graphic: { elements },
  };
}

export default function App() {
  const ref = useRef<HTMLDivElement>(null);
  useEffect(() => {
    const chart = echarts.init(ref.current as HTMLDivElement, null, { renderer: "svg" });
    chart.setOption(buildOption() as any);
    return () => chart.dispose();
  }, []);
  return <div ref={ref} style={{ position: "absolute", left: 0, top: 0, width: 965, height: 1571, background: "#fff" }} />;
}
